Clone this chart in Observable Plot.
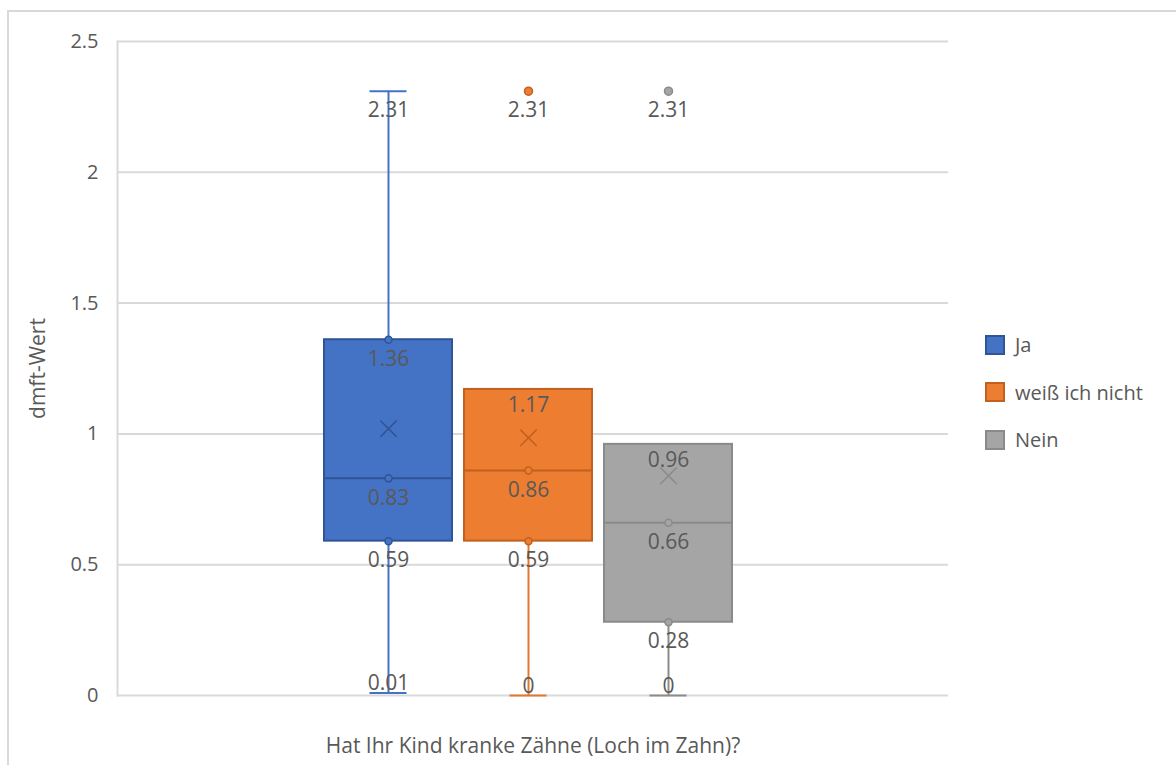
<!DOCTYPE html>
<html>
<head>
<meta charset="utf-8">
<script src="https://cdn.jsdelivr.net/npm/d3@7"></script>
<script src="https://cdn.jsdelivr.net/npm/@observablehq/plot@0.6"></script>
<style>
  html, body { margin: 0; padding: 0; background: #ffffff; }
  #chart { position: relative; width: 1176px; height: 765px; overflow: hidden; background: #ffffff; font-family: "Open Sans", sans-serif; }
  #border { position: absolute; left: 7px; top: 10px; width: 1300px; height: 900px; border: 2px solid #d9d9d9; pointer-events: none; }
  #plot { position: absolute; left: 0; top: 0; }
  #legend { position: absolute; left: 985px; top: 321px; color: #595959; font-size: 20px; font-family: "Open Sans", sans-serif; }
  .row { display: flex; align-items: center; height: 47.5px; }
  .sw { width: 20px; height: 20px; box-sizing: border-box; border: 2px solid; margin-right: 10px; }
</style>
</head>
<body>
<div id="chart">
  <div id="border"></div>
  <div id="plot"></div>
  <div id="legend"></div>
</div>
<script>
// ---- data ----
const categories = ["Ja", "weiß ich nicht", "Nein"];
const minValues = [0.01, 0, 0];
const q1Values = [0.59, 0.59, 0.28];
const medianValues = [0.83, 0.86, 0.66];
const q3Values = [1.36, 1.17, 0.96];
const maxValues = [2.31, 1.17, 0.96];
const meanValues = [1.02, 0.985, 0.84];
const outlierCategories = ["weiß ich nicht", "Nein"];
const outlierValues = [2.31, 2.31];
const yTicks = [0, 0.5, 1, 1.5, 2, 2.5];
const yTitle = "dmft-Wert";
const xTitle = "Hat Ihr Kind kranke Zähne (Loch im Zahn)?";

// ---- palette ----
const fillColors = ["#4472C4", "#ED7D31", "#A5A5A5"];
const lineColors = ["#4472C4", "#E2772E", "#8C8C8C"];
const darkColors = ["#2F5597", "#C0611F", "#8A8A8A"];

const fillOf = Object.fromEntries(categories.map((c, i) => [c, fillColors[i]]));
const lineOf = Object.fromEntries(categories.map((c, i) => [c, lineColors[i]]));
const darkOf = Object.fromEntries(categories.map((c, i) => [c, darkColors[i]]));

const boxes = categories.map((cat, i) => ({
  cat, min: minValues[i], q1: q1Values[i], median: medianValues[i],
  q3: q3Values[i], max: maxValues[i], mean: meanValues[i]
}));
const outliers = outlierCategories.map((cat, i) => ({cat, value: outlierValues[i]}));

// points drawn on box edges where a whisker attaches, plus medians
const edgeDots = [];
boxes.forEach(b => {
  edgeDots.push({cat: b.cat, value: b.median});
  if (b.q1 > b.min) edgeDots.push({cat: b.cat, value: b.q1});
  if (b.max > b.q3) edgeDots.push({cat: b.cat, value: b.q3});
});

// data labels
const labels = [];
boxes.forEach(b => {
  if (b.max > b.q3) labels.push({cat: b.cat, value: b.max, kind: "below"});
  labels.push({cat: b.cat, value: b.q3, kind: b.max > b.q3 ? "below" : "belowEdge"});
  labels.push({cat: b.cat, value: b.median, kind: "below"});
  labels.push({cat: b.cat, value: b.q1, kind: "below"});
  labels.push({cat: b.cat, value: b.min, kind: "above"});
});
outliers.forEach(o => labels.push({cat: o.cat, value: o.value, kind: "below"}));

const grid = "#d9d9d9";
const textColor = "#595959";
const fs = 21;

const labelMark = (kind, dy) => Plot.text(labels.filter(d => d.kind === kind), {
  x: "cat", y: "value", text: d => String(d.value), dy, fontSize: fs, fill: textColor
});

const chart = Plot.plot({
  width: 1176,
  height: 765,
  marginLeft: 117,
  marginRight: 228,
  marginTop: 41,
  marginBottom: 70,
  style: {fontFamily: "Open Sans, sans-serif", fontSize: "20px", color: textColor, background: "transparent"},
  x: {type: "band", domain: categories, range: [317.7, 739.6], paddingInner: 0.083, paddingOuter: 0.0415, axis: null},
  y: {domain: [0, 2.5], axis: null},
  marks: [
    Plot.ruleY(yTicks, {stroke: grid, strokeWidth: 2}),
    Plot.frame({anchor: "left", stroke: grid, strokeWidth: 2}),
    Plot.axisY(yTicks, {tickSize: 0, tickPadding: 19, tickFormat: d => String(d), fontSize: 20, fill: textColor, label: null}),
    // whiskers
    Plot.ruleX(boxes.filter(b => b.max > b.q3), {x: "cat", y1: "q3", y2: "max", stroke: d => lineOf[d.cat], strokeWidth: 2}),
    Plot.ruleX(boxes.filter(b => b.q1 > b.min), {x: "cat", y1: "min", y2: "q1", stroke: d => lineOf[d.cat], strokeWidth: 2}),
    // caps
    Plot.tickY(boxes.filter(b => b.max > b.q3), {x: "cat", y: "max", stroke: d => lineOf[d.cat], strokeWidth: 2, insetLeft: 45.5, insetRight: 45.5}),
    Plot.tickY(boxes.filter(b => b.q1 > b.min), {x: "cat", y: "min", stroke: d => lineOf[d.cat], strokeWidth: 2, insetLeft: 45.5, insetRight: 45.5}),
    // boxes
    Plot.barY(boxes, {x: "cat", y1: "q1", y2: "q3", fill: d => fillOf[d.cat], stroke: d => darkOf[d.cat], strokeWidth: 2}),
    // median lines
    Plot.tickY(boxes, {x: "cat", y: "median", stroke: d => darkOf[d.cat], strokeWidth: 2, insetLeft: 1, insetRight: 1}),
    // edge/median points
    Plot.dot(edgeDots, {x: "cat", y: "value", r: 3.5, fill: d => fillOf[d.cat], stroke: d => darkOf[d.cat], strokeWidth: 1.5}),
    // means
    Plot.dot(boxes, {x: "cat", y: "mean", symbol: "times", r: 7.5, stroke: d => darkOf[d.cat], strokeWidth: 1.5}),
    // outliers
    Plot.dot(outliers, {x: "cat", y: "value", r: 4, fill: d => fillOf[d.cat], stroke: d => darkOf[d.cat], strokeWidth: 1.5}),
    // labels
    labelMark("below", 19.5),
    labelMark("belowEdge", 16),
    labelMark("above", -9.5),
    // titles
    Plot.text([yTitle], {frameAnchor: "left", dx: -79, rotate: -90, textAnchor: "middle", lineAnchor: "middle", fontSize: fs, fill: textColor}),
    Plot.text([xTitle], {frameAnchor: "bottom", dy: 51, textAnchor: "middle", lineAnchor: "middle", fontSize: fs, fill: textColor})
  ]
});
document.getElementById("plot").appendChild(chart);

// legend
const legend = document.getElementById("legend");
categories.forEach((c, i) => {
  const row = document.createElement("div");
  row.className = "row";
  const sw = document.createElement("div");
  sw.className = "sw";
  sw.style.background = fillColors[i];
  sw.style.borderColor = darkColors[i];
  const label = document.createElement("span");
  label.textContent = c;
  row.appendChild(sw);
  row.appendChild(label);
  legend.appendChild(row);
});
</script>
</body>
</html>
